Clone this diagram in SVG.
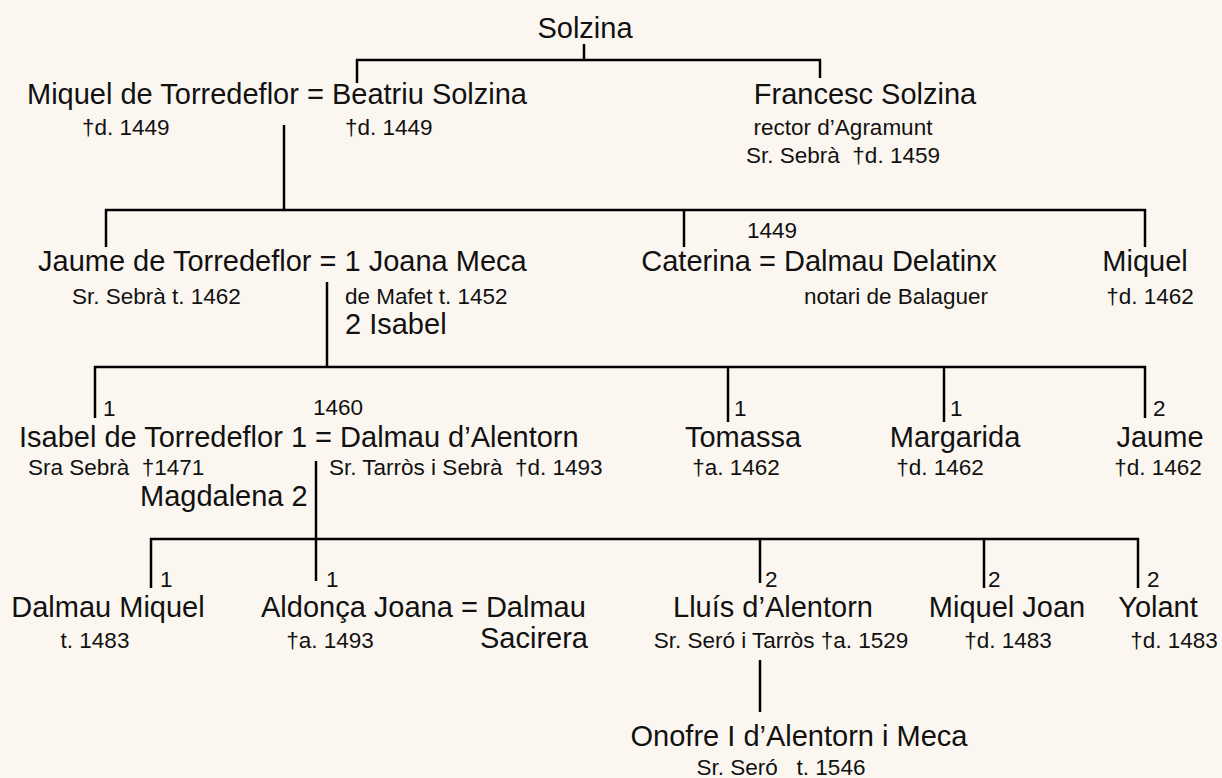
<svg xmlns="http://www.w3.org/2000/svg" width="1222" height="778" viewBox="0 0 1222 778">
<style>
text{font-family:"Liberation Sans",Arial,sans-serif;fill:#111}
.b{font-size:29px}
.s{font-size:22.5px}
.c line{stroke:#000;stroke-width:2.5}
</style>
<rect width="1222" height="778" fill="#fbf7f0"/>
<g class="c" id="connectors">
<line x1="584" y1="44" x2="584" y2="60"/>
<line x1="356" y1="60" x2="821" y2="60"/>
<line x1="357" y1="59" x2="357" y2="83"/>
<line x1="820" y1="59" x2="820" y2="78"/>
<line x1="284" y1="125" x2="284" y2="210"/>
<line x1="105" y1="210" x2="1146" y2="210"/>
<line x1="106" y1="209" x2="106" y2="247"/>
<line x1="684" y1="209" x2="684" y2="247"/>
<line x1="1145" y1="209" x2="1145" y2="247"/>
<line x1="327" y1="282" x2="327" y2="367"/>
<line x1="94" y1="367" x2="1146" y2="367"/>
<line x1="95" y1="366" x2="95" y2="418"/>
<line x1="728" y1="366" x2="728" y2="422"/>
<line x1="944" y1="366" x2="944" y2="422"/>
<line x1="1145" y1="366" x2="1145" y2="418"/>
<line x1="316" y1="461" x2="316" y2="581"/>
<line x1="150" y1="539" x2="1139" y2="539"/>
<line x1="151" y1="538" x2="151" y2="588"/>
<line x1="760" y1="538" x2="760" y2="583"/>
<line x1="984" y1="538" x2="984" y2="588"/>
<line x1="1138" y1="538" x2="1138" y2="588"/>
<line x1="760" y1="660" x2="760" y2="712"/>
</g>
<g id="solzina"><text class="b" x="585" y="38" text-anchor="middle">Solzina</text></g>
<g id="miquel-beatriu">
<text class="b" x="27" y="104">Miquel de Torredeflor = Beatriu Solzina</text>
<text class="s" x="82" y="135">†d. 1449</text>
<text class="s" x="345" y="135">†d. 1449</text>
</g>
<g id="francesc">
<text class="b" x="865" y="104" text-anchor="middle">Francesc Solzina</text>
<text class="s" x="843" y="135" text-anchor="middle">rector d’Agramunt</text>
<text class="s" x="843" y="163" text-anchor="middle" xml:space="preserve">Sr. Sebrà  †d. 1459</text>
</g>
<g id="jaume-joana">
<text class="s" x="747" y="238">1449</text>
<text class="b" x="38" y="271">Jaume de Torredeflor = 1 Joana Meca</text>
<text class="s" x="72" y="304">Sr. Sebrà t. 1462</text>
<text class="s" x="345" y="304">de Mafet t. 1452</text>
<text class="b" x="345" y="334">2 Isabel</text>
</g>
<g id="caterina">
<text class="b" x="819" y="271" text-anchor="middle">Caterina = Dalmau Delatinx</text>
<text class="s" x="896" y="304" text-anchor="middle">notari de Balaguer</text>
</g>
<g id="miquel2">
<text class="b" x="1145" y="271" text-anchor="middle">Miquel</text>
<text class="s" x="1150" y="304" text-anchor="middle">†d. 1462</text>
</g>
<g id="isabel-dalmau">
<text class="s" x="103" y="416">1</text>
<text class="s" x="313" y="415">1460</text>
<text class="b" x="19" y="447">Isabel de Torredeflor 1 = Dalmau d’Alentorn</text>
<text class="s" x="28" y="475" xml:space="preserve">Sra Sebrà  †1471</text>
<text class="s" x="329" y="475" xml:space="preserve">Sr. Tarròs i Sebrà  †d. 1493</text>
<text class="b" x="140" y="506">Magdalena 2</text>
</g>
<g id="tomassa">
<text class="s" x="734" y="416">1</text>
<text class="b" x="743" y="447" text-anchor="middle">Tomassa</text>
<text class="s" x="736" y="475" text-anchor="middle">†a. 1462</text>
</g>
<g id="margarida">
<text class="s" x="950" y="416">1</text>
<text class="b" x="955" y="447" text-anchor="middle">Margarida</text>
<text class="s" x="940" y="475" text-anchor="middle">†d. 1462</text>
</g>
<g id="jaume2">
<text class="s" x="1153" y="416">2</text>
<text class="b" x="1160" y="447" text-anchor="middle">Jaume</text>
<text class="s" x="1158" y="475" text-anchor="middle">†d. 1462</text>
</g>
<g id="dalmau-miquel">
<text class="s" x="160" y="587">1</text>
<text class="b" x="108" y="617" text-anchor="middle">Dalmau Miquel</text>
<text class="s" x="95" y="648" text-anchor="middle">t. 1483</text>
</g>
<g id="aldonca">
<text class="s" x="326" y="587">1</text>
<text class="b" x="261" y="617">Aldonça Joana = Dalmau</text>
<text class="s" x="330" y="648" text-anchor="middle">†a. 1493</text>
<text class="b" x="534" y="648" text-anchor="middle">Sacirera</text>
</g>
<g id="lluis">
<text class="s" x="765" y="587">2</text>
<text class="b" x="773" y="617" text-anchor="middle">Lluís d’Alentorn</text>
<text class="s" x="781" y="648" text-anchor="middle">Sr. Seró i Tarròs †a. 1529</text>
</g>
<g id="miquel-joan">
<text class="s" x="988" y="587">2</text>
<text class="b" x="1007" y="617" text-anchor="middle">Miquel Joan</text>
<text class="s" x="1008" y="648" text-anchor="middle">†d. 1483</text>
</g>
<g id="yolant">
<text class="s" x="1147" y="587">2</text>
<text class="b" x="1158" y="617" text-anchor="middle">Yolant</text>
<text class="s" x="1174" y="648" text-anchor="middle">†d. 1483</text>
</g>
<g id="onofre">
<text class="b" x="799" y="746" text-anchor="middle">Onofre I d’Alentorn i Meca</text>
<text class="s" x="781" y="775" text-anchor="middle" xml:space="preserve">Sr. Seró   t. 1546</text>
</g>
</svg>
